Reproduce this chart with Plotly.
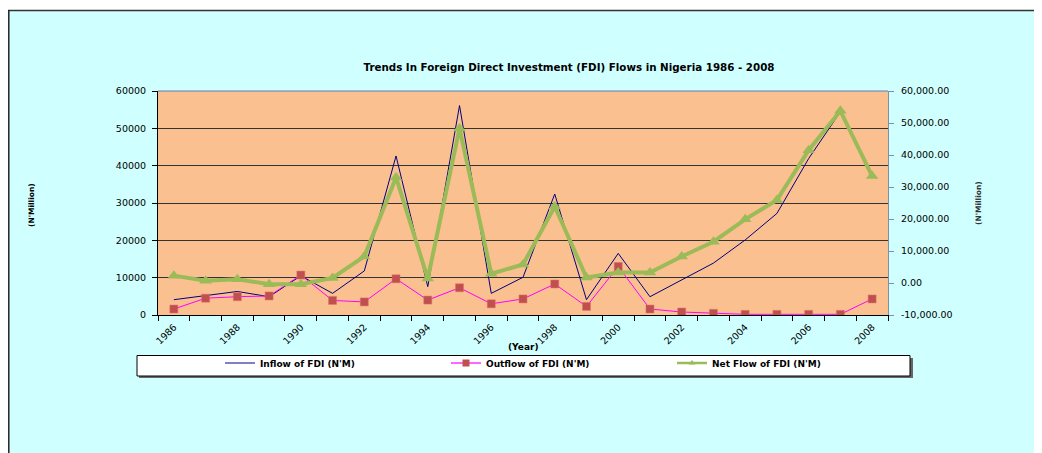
import plotly.graph_objects as go

years = list(range(1986, 2009))
inflow = [4100, 5100, 6300, 4900, 10500, 5800, 11800, 42600, 7600, 56100, 5800, 10100,
          32400, 4100, 16500, 4900, 9400, 13900, 20100, 27200, 41900, 54400, 37800]
outflow = [1600, 4500, 4900, 5100, 10700, 3900, 3500, 9700, 4000, 7300, 3000, 4300,
           8300, 2300, 13000, 1600, 800, 450, 180, 180, 180, 180, 4300]
netflow = [2300, 700, 1200, -400, -400, 1600, 8300, 33000, 1400, 48300, 2900, 5800,
           23900, 1700, 3300, 3300, 8300, 12900, 19900, 25900, 41500, 53800, 33400]

x_ticks = list(range(1986, 2009, 2))
left_ticks = list(range(0, 60001, 10000))
right_ticks = list(range(-10000, 60001, 10000))

# page adds an 8px body margin, so the figure is offset by 8px in the window
W, H = 1034, 445
PL, PR, PT, PB = 150, 880, 83, 307


def px(x):
    return (x - PL) / (PR - PL)


def py(y):
    return (PB - y) / (PB - PT)


FONT = "DejaVu Sans, Verdana, sans-serif"
TICKFONT = dict(family=FONT, size=9.5, color="black")

fig = go.Figure()
fig.add_trace(go.Scatter(x=years, y=inflow, name="Inflow of FDI (N'M)", mode="lines",
                         line=dict(color="#000080", width=1), yaxis="y", showlegend=False))
fig.add_trace(go.Scatter(x=years, y=outflow, name="Outflow of FDI (N'M)", mode="lines+markers",
                         line=dict(color="#FF00FF", width=1),
                         marker=dict(symbol="square", size=8, color="#C0504D",
                                     line=dict(color="#E07070", width=0.5)), yaxis="y", showlegend=False))
fig.add_trace(go.Scatter(x=years, y=netflow, name="Net Flow of FDI (N'M)", mode="lines+markers",
                         line=dict(color="#9BBB59", width=4),
                         marker=dict(symbol="triangle-up", size=11, color="#9BBB59"), yaxis="y2",
                         showlegend=False))

# legend-only entries with small symbols, as in the reference legend
fig.add_trace(go.Scatter(x=[None], y=[None], name="<b>Inflow of FDI (N'M)</b>", mode="lines",
                         line=dict(color="#8080C8", width=2)))
fig.add_trace(go.Scatter(x=[None], y=[None], name="<b>Outflow of FDI (N'M)</b>", mode="lines+markers",
                         line=dict(color="#FF66FF", width=2),
                         marker=dict(symbol="square", size=7, color="#C0504D")))
fig.add_trace(go.Scatter(x=[None], y=[None], name="<b>Net Flow of FDI (N'M)</b>", mode="lines+markers",
                         line=dict(color="#9BBB59", width=2.5),
                         marker=dict(symbol="triangle-up", size=6, color="#9BBB59"), yaxis="y2"))

shapes = []
# white strip above the chart frame
shapes.append(dict(type="rect", xref="paper", yref="paper", x0=px(-5), x1=px(W + 5), y0=py(-5), y1=py(2),
                   fillcolor="white", line=dict(width=0), layer="below"))
# frame lines
shapes.append(dict(type="line", xref="paper", yref="paper", x0=px(0), x1=px(W + 5), y0=py(2.5), y1=py(2.5),
                   line=dict(color="#333333", width=1.5)))
shapes.append(dict(type="line", xref="paper", yref="paper", x0=px(0.8), x1=px(0.8), y0=py(2), y1=py(H + 5),
                   line=dict(color="#222222", width=1.5)))
# legend box with shadow
shapes.append(dict(type="rect", xref="paper", yref="paper", x0=px(131), x1=px(905), y0=py(350), y1=py(370),
                   fillcolor="#666666", line=dict(width=0), layer="below"))
shapes.append(dict(type="rect", xref="paper", yref="paper", x0=px(129), x1=px(902), y0=py(347.5), y1=py(368),
                   fillcolor="white", line=dict(color="black", width=1), layer="below"))
# plot top border
shapes.append(dict(type="line", xref="paper", yref="paper", x0=0, x1=1, y0=1, y1=1,
                   line=dict(color="#4F81BD", width=1)))

annotations = [
    dict(text="<b>(Year)</b>", xref="paper", yref="paper", x=px(515), y=py(339), showarrow=False,
         font=dict(family=FONT, size=9, color="black"), xanchor="center", yanchor="middle"),
    dict(text="<b>(N'Million)</b>", xref="paper", yref="paper", x=px(23), y=py(197), showarrow=False,
         textangle=-90, font=dict(family=FONT, size=7.5, color="black"), xanchor="center", yanchor="middle"),
    dict(text="<b>(N'Million)</b>", xref="paper", yref="paper", x=px(970), y=py(195), showarrow=False,
         textangle=-90, font=dict(family=FONT, size=7.5, color="#333333"), xanchor="center", yanchor="middle"),
]

fig.update_layout(
    width=W, height=H,
    margin=dict(l=PL, r=W - PR, t=PT, b=H - PB, pad=0, autoexpand=False),
    paper_bgcolor="#D0FFFF",
    plot_bgcolor="#FAC090",
    title=dict(text="<b>Trends In Foreign Direct Investment (FDI) Flows in Nigeria 1986 - 2008</b>",
               x=561 / W, xref="container", xanchor="center",
               y=1 - 59 / H, yref="container", yanchor="middle",
               font=dict(family=FONT, size=10.3, color="black")),
    xaxis=dict(range=[1985.5, 2008.5], tickmode="array", tickvals=x_ticks,
               ticktext=[str(v) for v in x_ticks], tickangle=-45, ticks="", showgrid=False,
               showline=True, linecolor="black", linewidth=1, zeroline=False,
               tickfont=TICKFONT, ticklabelstandoff=2,
               minor=dict(tickmode="linear", tick0=1985.5, dtick=1, ticks="outside", ticklen=5,
                          tickcolor="black", showgrid=False)),
    yaxis=dict(range=[0, 60000], tickmode="array", tickvals=left_ticks,
               ticktext=[str(v) for v in left_ticks], ticks="outside", ticklen=5, tickcolor="black",
               showgrid=True, gridcolor="#333333", gridwidth=1, zeroline=False,
               showline=True, linecolor="black", linewidth=1, tickfont=TICKFONT, ticklabelstandoff=4),
    yaxis2=dict(range=[-10000, 60000], overlaying="y", side="right", tickmode="array",
                tickvals=right_ticks, ticktext=[f"{v:,.2f}" for v in right_ticks],
                ticks="outside", ticklen=5, tickcolor="#7F8FA9", showgrid=False, zeroline=False,
                showline=True, linecolor="#7F8FA9", linewidth=1, tickfont=TICKFONT, ticklabelstandoff=5),
    legend=dict(orientation="h", x=px(212), xanchor="left", y=py(355), yanchor="middle",
                bgcolor="rgba(0,0,0,0)", borderwidth=0, entrywidth=181, entrywidthmode="pixels",
                font=dict(family=FONT, size=9, color="black"), itemsizing="trace"),
    shapes=shapes,
    annotations=annotations,
    showlegend=True,
)

fig.write_html("out.html")
